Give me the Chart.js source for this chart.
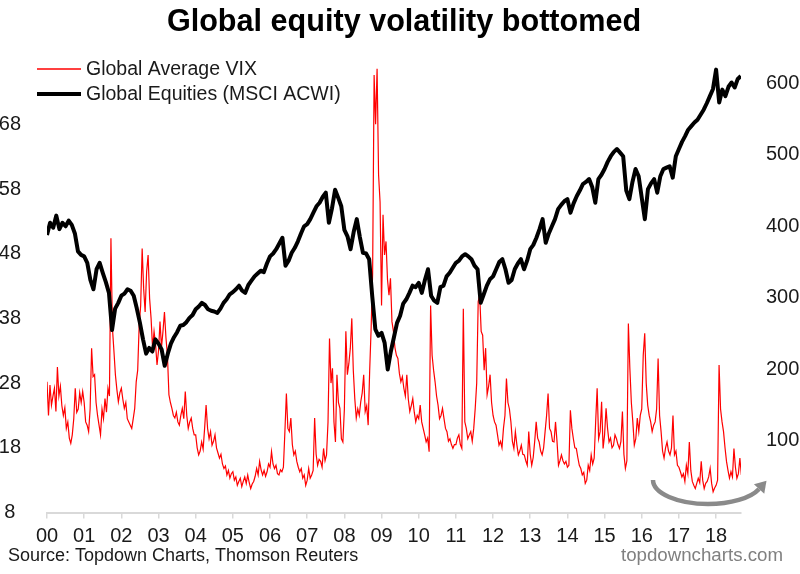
<!DOCTYPE html>
<html>
<head>
<meta charset="utf-8">
<script src="https://cdn.jsdelivr.net/npm/chart.js@4/dist/chart.umd.min.js"></script>
<style>
  body { margin: 0; background: #fff; }
  #chart { display: block; }
</style>
</head>
<body>
<canvas id="chart" width="800" height="574"></canvas>
<script>
// Global Average VIX (left axis), one value every 0.04 year from 2000.00
const vixStart = 2000;
const vixStep = 0.04;
const vixValues = [
  // 2000
  28.2, 23.0, 27.7, 24.6, 26.0, 27.2, 23.6, 30.5, 26.0, 27.5, 24.5, 23.0, 24.2,
  21.0, 22.0, 19.5, 18.7, 20.0, 22.5, 27.2, 23.5, 24.0, 26.5, 25.0, 26.7,
  // 2001
  25.0, 22.0, 21.5, 20.5, 24.0, 33.4, 29.0, 29.3, 25.0, 23.0, 21.5, 20.0, 24.0,
  22.5, 25.6, 23.5, 27.2, 26.0, 50.4, 36.5, 33.0, 29.3, 27.0, 25.1, 26.5,
  // 2002
  27.2, 25.5, 24.1, 25.0, 22.5, 22.0, 21.5, 21.0, 22.5, 24.1, 28.2, 30.0, 37.0,
  40.0, 48.8, 42.6, 39.0, 45.2, 47.8, 41.1, 38.0, 33.4, 36.0, 34.0, 30.8,
  // 2003
  33.0, 37.5, 33.5, 36.0, 39.0, 35.0, 32.3, 26.2, 25.0, 24.1, 23.0, 22.6, 23.5,
  22.0, 21.5, 23.0, 24.1, 22.5, 26.7, 23.0, 21.0, 22.0, 22.6, 21.0, 20.0,
  // 2004
  20.0, 18.0, 16.9, 17.5, 18.9, 17.8, 21.0, 24.6, 21.0, 19.4, 20.5, 18.4, 19.0,
  20.0, 18.0, 17.2, 16.4, 17.0, 15.5, 14.8, 15.2, 13.8, 14.5, 13.3, 14.0,
  // 2005
  14.3, 13.0, 13.5, 12.2, 12.8, 13.3, 12.0, 12.8, 13.5, 12.5, 13.8, 12.6, 11.7,
  12.4, 12.8, 13.6, 14.8, 13.8, 15.9, 14.6, 13.8, 14.5, 13.6, 14.3, 15.5,
  // 2006
  15.0, 17.4, 15.5, 14.8, 15.3, 14.0, 13.8, 14.6, 14.3, 15.0, 20.5, 26.4, 21.0,
  20.5, 22.6, 18.5, 16.9, 17.5, 15.9, 15.0, 14.3, 14.8, 13.3, 13.8, 12.2,
  // 2007
  13.0, 14.8, 13.3, 13.8, 14.5, 22.6, 17.0, 15.3, 16.2, 15.9, 15.0, 17.9, 16.0,
  16.9, 22.0, 34.9, 28.0, 30.3, 22.0, 18.9, 29.3, 25.0, 24.1, 19.4, 18.9,
  // 2008
  24.0, 36.0, 29.3, 31.0, 33.4, 38.0, 30.0, 25.6, 22.6, 24.0, 23.0, 25.1, 26.5,
  29.3, 23.6, 24.5, 21.5, 29.8, 36.5, 45.0, 75.6, 68.0, 76.6, 60.2, 56.0,
  // 2009
  40.0, 54.0, 47.8, 49.9, 44.0, 41.6, 44.2, 37.5, 36.0, 33.5, 32.3, 31.8, 29.5,
  28.2, 29.0, 27.2, 26.0, 29.3, 25.5, 23.6, 24.5, 25.6, 23.5, 22.0, 23.0,
  // 2010
  22.5, 24.6, 22.0, 21.0, 20.0, 18.9, 19.5, 17.4, 40.0, 32.3, 30.0, 28.2, 26.0,
  24.6, 22.5, 23.0, 24.1, 22.5, 21.0, 20.5, 19.0, 19.4, 18.5, 17.9, 18.5,
  // 2011
  18.5, 19.5, 20.0, 18.5, 17.9, 39.5, 22.0, 21.0, 19.4, 20.0, 20.5, 19.0, 21.0,
  24.1, 28.0, 40.6, 41.6, 36.0, 35.4, 30.0, 33.4, 26.2, 27.5, 29.3, 25.0,
  // 2012
  23.0, 22.0, 21.5, 20.0, 18.4, 19.0, 18.0, 21.0, 23.0, 28.7, 25.0, 24.0, 22.0,
  19.0, 17.9, 20.5, 18.5, 16.9, 17.5, 18.4, 17.0, 16.9, 16.0, 15.3, 20.5,
  // 2013
  17.0, 15.3, 16.5, 19.0, 22.0, 19.5, 18.9, 17.5, 16.9, 18.0, 20.5, 23.0, 26.4,
  21.0, 20.5, 19.0, 18.9, 22.0, 19.0, 15.3, 16.0, 16.9, 16.0, 15.5, 15.9,
  // 2014
  15.0, 15.3, 23.8, 21.0, 19.4, 18.0, 17.9, 16.5, 15.3, 14.8, 13.8, 14.2, 12.5,
  13.0, 15.3, 14.5, 16.9, 15.5, 16.4, 22.0, 27.2, 19.4, 20.5, 25.1, 17.9,
  // 2015
  20.0, 24.1, 21.0, 18.9, 19.5, 18.0, 18.4, 20.0, 19.4, 18.5, 17.9, 19.0, 23.6,
  17.0, 14.8, 16.0, 37.2, 30.3, 25.0, 22.0, 18.4, 19.4, 22.6, 20.5, 23.0,
  // 2016
  24.0, 32.3, 35.7, 28.0, 24.6, 23.0, 22.0, 20.5, 21.5, 22.0, 24.0, 31.8, 23.0,
  20.5, 17.5, 16.4, 18.0, 18.9, 17.5, 16.9, 18.0, 23.0, 16.9, 17.5, 15.3,
  // 2017
  15.0, 14.3, 13.5, 14.0, 12.8, 15.3, 14.0, 18.9, 14.5, 12.8, 12.2, 11.7, 12.5,
  13.3, 12.6, 15.9, 13.0, 11.7, 12.5, 12.8, 13.5, 14.8, 12.5, 11.2, 11.8,
  // 2018
  12.2, 13.0, 30.8, 24.0, 22.0, 20.5, 18.0, 15.9, 14.5, 13.3, 14.3, 13.5, 17.9,
  15.0, 13.3, 14.0, 16.4, 13.8
];

// Global Equities (MSCI ACWI) (right axis), monthly from Jan 2000
const acwiStart = 2000;
const acwiStep = 1 / 12;
const acwiValues = [
  388, 405, 398, 415, 396, 405, 400, 408, 402, 390, 365, 360, // 2000
  358, 349, 325, 312, 340, 349, 335, 322, 307, 255, 285, 293, // 2001
  303, 306, 312, 310, 303, 285, 265, 242, 222, 230, 225, 242, // 2002
  236, 228, 205, 222, 236, 245, 252, 261, 262, 266, 272, 276, // 2003
  284, 288, 293, 290, 284, 282, 281, 279, 285, 293, 298, 305, // 2004
  308, 312, 317, 310, 307, 318, 324, 330, 334, 338, 336, 348, // 2005
  358, 362, 368, 376, 384, 345, 352, 363, 370, 379, 390, 400, // 2006
  403, 410, 419, 428, 433, 441, 447, 405, 425, 451, 440, 428, // 2007
  395, 386, 368, 392, 410, 385, 363, 362, 354, 302, 256, 247, // 2008
  251, 237, 200, 225, 245, 265, 275, 292, 298, 307, 317, 315, // 2009
  321, 307, 325, 340, 303, 296, 293, 315, 317, 330, 335, 342, // 2010
  349, 352, 358, 361, 358, 354, 345, 340, 293, 305, 317, 326, // 2011
  330, 340, 350, 354, 340, 321, 325, 340, 348, 354, 340, 352, // 2012
  368, 374, 384, 396, 410, 377, 390, 400, 410, 424, 430, 435, // 2013
  438, 419, 432, 442, 450, 459, 462, 466, 455, 433, 466, 472, // 2014
  480, 490, 498, 504, 508, 503, 498, 450, 438, 462, 480, 470, // 2015
  440, 410, 452, 460, 466, 447, 470, 480, 482, 484, 468, 498, // 2016
  508, 518, 526, 535, 540, 545, 549, 556, 563, 572, 582, 592, // 2017
  619, 573, 591, 582, 595, 601, 594, 606, 610                  // 2018
];

const vixTicks = [8, 18, 28, 38, 48, 58, 68];
const acwiTicks = [100, 200, 300, 400, 500, 600];
const yearLabels = ["00", "01", "02", "03", "04", "05", "06", "07", "08", "09",
  "10", "11", "12", "13", "14", "15", "16", "17", "18"];

const titleText = "Global equity volatility bottomed";
const sourceText = "Source: Topdown Charts, Thomson Reuters";
const siteText = "topdowncharts.com";

const FONT = "'Liberation Sans', Arial, sans-serif";
Chart.defaults.font.family = FONT;
Chart.defaults.color = "#1a1a1a";

// title, footer, legend and the grey arrow are drawn on top of the chart
const decorPlugin = {
  id: "decor",
  afterDraw(chart) {
    const ctx = chart.ctx;
    ctx.save();

    ctx.fillStyle = "#000";
    ctx.font = "bold 30.6px " + FONT;
    ctx.textAlign = "center";
    ctx.textBaseline = "alphabetic";
    ctx.fillText(titleText, 404, 31);

    ctx.font = "18px " + FONT;
    ctx.textAlign = "left";
    ctx.fillStyle = "#1a1a1a";
    ctx.fillText(sourceText, 8, 561);
    ctx.font = "18.7px " + FONT;
    ctx.textAlign = "right";
    ctx.fillStyle = "#808080";
    ctx.fillText(siteText, 783, 561);

    // legend
    const rows = [69, 94];
    chart.data.datasets.forEach((ds, i) => {
      ctx.strokeStyle = ds.borderColor;
      ctx.lineWidth = ds.legendWidth;
      ctx.beginPath();
      ctx.moveTo(37, rows[i]);
      ctx.lineTo(81, rows[i]);
      ctx.stroke();
      ctx.fillStyle = "#1a1a1a";
      ctx.font = "19.5px " + FONT;
      ctx.textAlign = "left";
      ctx.textBaseline = "middle";
      ctx.fillText(ds.label, 86, rows[i] + 1);
    });

    // curved arrow
    ctx.strokeStyle = "#8a8a8a";
    ctx.fillStyle = "#8a8a8a";
    ctx.lineWidth = 4.5;
    ctx.beginPath();
    ctx.ellipse(708, 480, 55, 24, 0, Math.PI, 0.38, true);
    ctx.stroke();
    const ex = 708 + 55 * Math.cos(0.38), ey = 480 + 24 * Math.sin(0.38);
    let dx = 55 * Math.sin(0.38), dy = -24 * Math.cos(0.38);
    const len = Math.hypot(dx, dy);
    dx /= len; dy /= len;
    ctx.beginPath();
    ctx.moveTo(ex + dx * 11, ey + dy * 11);
    ctx.lineTo(ex - dy * 7, ey + dx * 7);
    ctx.lineTo(ex + dy * 7, ey - dx * 7);
    ctx.closePath();
    ctx.fill();

    ctx.restore();
  }
};

const ctx = document.getElementById("chart").getContext("2d");
new Chart(ctx, {
  type: "line",
  data: {
    datasets: [
      {
        label: "Global Average VIX",
        data: vixValues.map((v, i) => ({ x: vixStart + i * vixStep, y: v })),
        borderColor: "#ff0000",
        borderWidth: 1.2,
        legendWidth: 1.6,
        pointRadius: 0,
        yAxisID: "yVix",
        order: 1,
      },
      {
        label: "Global Equities (MSCI ACWI)",
        data: acwiValues.map((v, i) => ({ x: acwiStart + i * acwiStep, y: v })),
        borderColor: "#000000",
        borderWidth: 4,
        legendWidth: 4,
        borderJoinStyle: "round",
        pointRadius: 0,
        yAxisID: "yAcwi",
        order: 0,
      },
    ],
  },
  options: {
    responsive: false,
    animation: false,
    devicePixelRatio: 1,
    layout: { padding: { top: 59.6, left: 0, right: 0, bottom: 0 } },
    plugins: {
      legend: { display: false },
      title: { display: false },
      tooltip: { enabled: false },
    },
    scales: {
      x: {
        type: "linear",
        min: 2000,
        max: 2018.67,
        afterBuildTicks: (scale) => {
          scale.ticks = yearLabels.map((_, i) => ({ value: 2000 + i }));
        },
        afterFit: (scale) => { scale.height = 61.5; },
        ticks: {
          callback: (value, index) => yearLabels[index],
          font: { size: 20 },
          padding: 6,
          maxRotation: 0,
          autoSkip: false,
        },
        grid: {
          drawOnChartArea: false,
          drawTicks: true,
          tickLength: 6,
          color: "#d9d9d9",
          lineWidth: 1.5,
        },
        border: { display: true, color: "#d9d9d9", width: 2 },
      },
      yVix: {
        position: "left",
        min: 8,
        max: 78,
        afterBuildTicks: (scale) => {
          scale.ticks = vixTicks.map((v) => ({ value: v }));
        },
        afterFit: (scale) => { scale.width = 47; },
        ticks: { font: { size: 20 }, padding: 18, crossAlign: "center" },
        grid: { display: false },
        border: { display: false },
      },
      yAcwi: {
        position: "right",
        min: 0,
        max: 633,
        afterBuildTicks: (scale) => {
          scale.ticks = acwiTicks.map((v) => ({ value: v }));
        },
        afterFit: (scale) => { scale.width = 59; },
        ticks: { font: { size: 20 }, padding: 17 },
        grid: { display: false },
        border: { display: false },
      },
    },
  },
  plugins: [decorPlugin],
});
</script>
</body>
</html>
